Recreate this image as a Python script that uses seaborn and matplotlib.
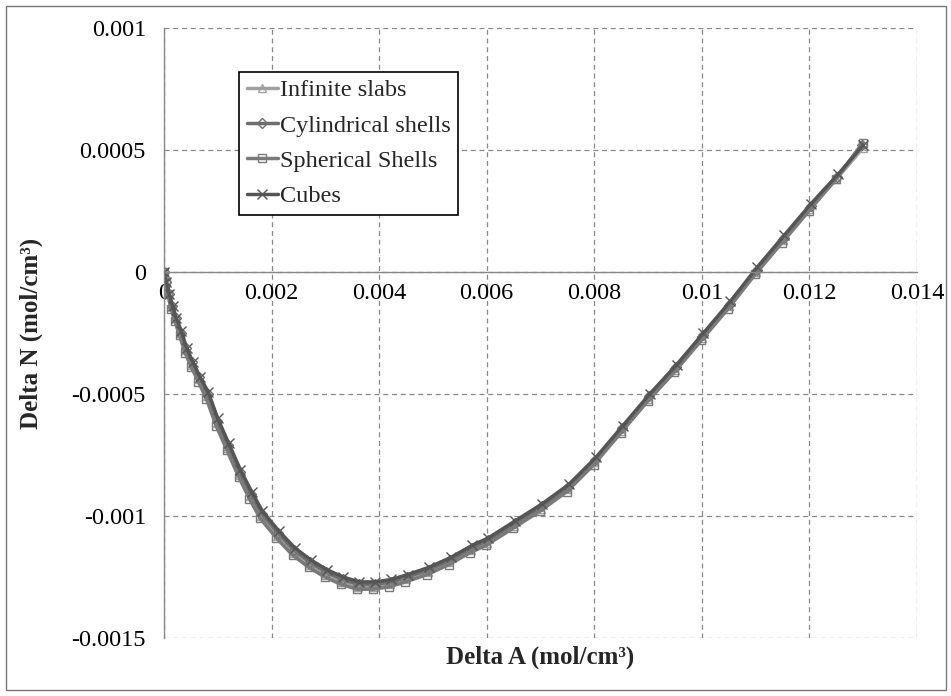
import numpy as np
import pandas as pd
import matplotlib
matplotlib.use("Agg")
import matplotlib.pyplot as plt
import seaborn as sns
from matplotlib.ticker import FuncFormatter
from matplotlib.patches import Rectangle

series_names = ["Infinite slabs", "Cylindrical shells", "Spherical Shells", "Cubes"]

slabs_x = [0, 0.00003, 0.00008, 0.00014, 0.00021, 0.0003, 0.0004, 0.00052, 0.00065, 0.0008,
           0.00098, 0.00118, 0.0014, 0.0016, 0.0018, 0.0021, 0.0024, 0.0027, 0.003, 0.0033,
           0.0036, 0.0039, 0.0042, 0.0045, 0.0049, 0.0053, 0.0057, 0.006, 0.0065, 0.007,
           0.0075, 0.008, 0.0085, 0.009, 0.0095, 0.01, 0.0105, 0.011, 0.0115, 0.012, 0.0125, 0.013]
slabs_y = [0, -0.00004, -0.00009, -0.00014, -0.00019, -0.00025, -0.00032, -0.00038, -0.00044, -0.00051,
           -0.00062, -0.00072, -0.00083, -0.00092, -0.00100, -0.00108, -0.00115, -0.00120, -0.00124, -0.00127,
           -0.00129, -0.00129, -0.00128, -0.00126, -0.00123, -0.00119, -0.00114, -0.00111, -0.00104, -0.00097,
           -0.00089, -0.00078, -0.00065, -0.00052, -0.00040, -0.00027, -0.00014, 0.00000, 0.00013, 0.00026, 0.00038, 0.00051]

cyl_x = [0, 0.00004, 0.00009, 0.00015, 0.00022, 0.00031, 0.00041, 0.00053, 0.00066, 0.00081,
         0.00099, 0.00119, 0.00141, 0.00162, 0.00182, 0.00212, 0.00242, 0.00272, 0.00302, 0.00332,
         0.00362, 0.00392, 0.00422, 0.00452, 0.00492, 0.00532, 0.00572, 0.00602, 0.00652, 0.00702,
         0.00752, 0.00802, 0.00852, 0.00902, 0.00952, 0.01002, 0.01052, 0.01102, 0.01152, 0.01202, 0.01252, 0.01298]
cyl_y = [0, -0.00004, -0.00009, -0.00014, -0.00019, -0.00025, -0.00031, -0.00037, -0.00043, -0.00050,
         -0.00061, -0.00071, -0.00082, -0.00091, -0.00099, -0.00107, -0.00114, -0.00119, -0.00123, -0.00126,
         -0.00128, -0.00128, -0.00127, -0.00125, -0.00122, -0.00118, -0.00113, -0.00110, -0.00103, -0.00096,
         -0.00088, -0.00077, -0.00064, -0.00051, -0.00039, -0.00026, -0.00013, 0.00001, 0.00014, 0.00027, 0.00039, 0.00052]

sph_x = [0, 0.00003, 0.00007, 0.00013, 0.0002, 0.00029, 0.00039, 0.00051, 0.00064, 0.00079,
         0.00097, 0.00117, 0.00139, 0.00159, 0.00179, 0.00209, 0.00239, 0.00269, 0.00299, 0.00329,
         0.00359, 0.00389, 0.00419, 0.00449, 0.00489, 0.00529, 0.00569, 0.00599, 0.00649, 0.00699,
         0.00749, 0.00799, 0.00849, 0.00899, 0.00949, 0.00999, 0.01049, 0.01099, 0.01149, 0.01199, 0.01249, 0.01299]
sph_y = [0, -0.00004, -0.00009, -0.00015, -0.0002, -0.00026, -0.00033, -0.00039, -0.00045, -0.00052,
         -0.00063, -0.00073, -0.00084, -0.00093, -0.00101, -0.00109, -0.00116, -0.00121, -0.00125, -0.00128,
         -0.00130, -0.00130, -0.00129, -0.00127, -0.00124, -0.00120, -0.00115, -0.00112, -0.00105, -0.00098,
         -0.00090, -0.00079, -0.00066, -0.00053, -0.00041, -0.00028, -0.00015, -0.00001, 0.00012, 0.00025, 0.00038, 0.00053]

cube_x = [0, 0.00004, 0.0001, 0.00016, 0.00023, 0.00032, 0.00042, 0.00054, 0.00067, 0.00082,
          0.001, 0.0012, 0.00142, 0.00163, 0.00183, 0.00213, 0.00243, 0.00273, 0.00303, 0.00333,
          0.00363, 0.00393, 0.00423, 0.00453, 0.00493, 0.00533, 0.00573, 0.00603, 0.00653, 0.00703,
          0.00753, 0.00803, 0.00853, 0.00903, 0.00953, 0.01003, 0.01053, 0.01103, 0.01153, 0.01203, 0.01253, 0.013]
cube_y = [0, -0.00004, -0.00009, -0.00014, -0.00019, -0.00024, -0.00031, -0.00037, -0.00043, -0.00049,
          -0.00060, -0.00070, -0.00081, -0.00090, -0.00098, -0.00106, -0.00113, -0.00118, -0.00122, -0.00125,
          -0.00127, -0.00127, -0.00126, -0.00124, -0.00121, -0.00117, -0.00112, -0.00109, -0.00102, -0.00095,
          -0.00087, -0.00076, -0.00063, -0.00050, -0.00038, -0.00025, -0.00012, 0.00002, 0.00015, 0.00028, 0.00040, 0.00052]

xs = [slabs_x, cyl_x, sph_x, cube_x]
ys = [slabs_y, cyl_y, sph_y, cube_y]

x_ticks = [0, 0.002, 0.004, 0.006, 0.008, 0.01, 0.012, 0.014]
y_ticks = [-0.0015, -0.001, -0.0005, 0, 0.0005, 0.001]

colors = ["#a0a0a0", "#6e6e6e", "#7a7a7a", "#555555"]
markers = ["^", "D", "s", "x"]
msizes = [6, 5, 6, 7]

sns.set_style("white")
plt.rcParams["font.family"] = ["Liberation Serif", "DejaVu Serif"]

fig = plt.figure(figsize=(9.51, 6.96), dpi=100)
ax = fig.add_axes([0.1724, 0.0833, 0.7919, 0.8765])

for name, x, y, c, m, ms in zip(series_names, xs, ys, colors, markers, msizes):
    df = pd.DataFrame({"Delta A": x, "Delta N": y})
    sns.lineplot(data=df, x="Delta A", y="Delta N", ax=ax, sort=False, color=c,
                 linewidth=2.5, marker=m, markersize=ms, markerfacecolor="none",
                 markeredgecolor=c, markeredgewidth=1.0, label=name)

ax.set_xlim(0, 0.014)
ax.set_ylim(-0.0015, 0.001)
ax.set_xticks(x_ticks)
ax.set_yticks(y_ticks)
fmt = FuncFormatter(lambda v, p: f"{v:g}")
ax.xaxis.set_major_formatter(fmt)
ax.yaxis.set_major_formatter(fmt)

ax.grid(True, linestyle=(0, (4, 3)), color="#888888", linewidth=0.9)
ax.set_axisbelow(True)
for s in ["top", "right"]:
    ax.spines[s].set_visible(False)
ax.spines["bottom"].set_position(("data", 0))
ax.spines["bottom"].set_color("#888888")
ax.spines["left"].set_color("#888888")
ax.spines["bottom"].set_linewidth(1.0)
ax.spines["left"].set_linewidth(1.0)

ax.tick_params(axis="both", labelsize=17.5, length=5, direction="out")
ax.tick_params(axis="x", pad=3, colors="#888888", labelcolor="black")
ax.tick_params(axis="y", pad=8, colors="#888888", labelcolor="black")

ax.set_xlabel("Delta A (mol/cm³)", fontsize=18, fontweight="bold")
ax.set_ylabel("Delta N (mol/cm³)", fontsize=18, fontweight="bold")
ax.xaxis.set_label_coords(0.5, -0.012)
ax.yaxis.set_label_coords(-0.16, 0.5)

leg = ax.legend(loc="upper left", bbox_to_anchor=(0.100, 0.928), fontsize=17.5,
                frameon=True, fancybox=False, edgecolor="black", framealpha=1,
                handlelength=1.3, handletextpad=0.08, labelspacing=0.55,
                borderpad=0.3, borderaxespad=0)
leg.get_frame().set_linewidth(1.2)

fig.patches.append(Rectangle((0.006, 0.008), 0.989, 0.984, transform=fig.transFigure,
                             fill=False, edgecolor="#777777", linewidth=1.0))

fig.savefig("out.png", dpi=100)
